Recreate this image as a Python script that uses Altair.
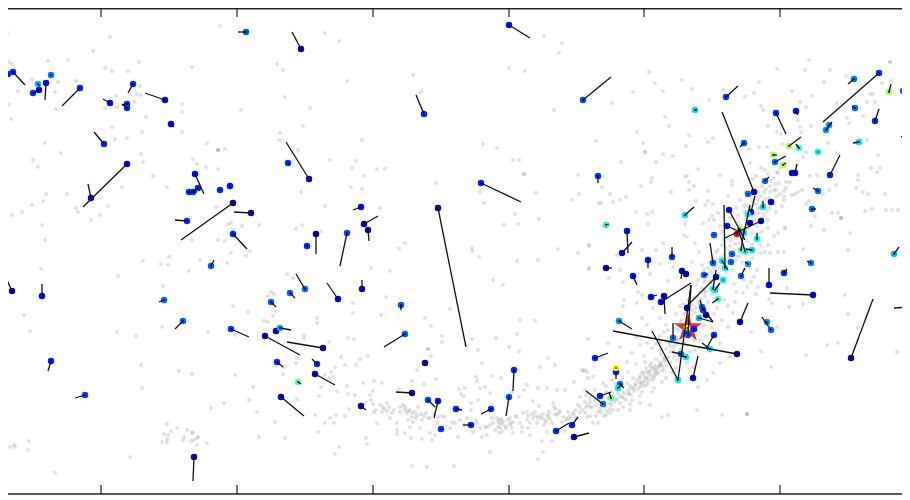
import altair as alt
import pandas as pd

TICKS_X = [101, 237, 373, 509, 644, 780]
FRAME_Y = [494, 8.7]

GREY_LEFT = [(7,33),(110,37),(93,51),(48,61),(68,60),(9,62),(12,64),(139,62),(105,68),(112,71),(128,71),(192,67),(277,64),(283,70),(220,26),(32,79),(58,82),(76,81),(18,91),(55,92),(140,86),(137,94),(141,95),(116,96),(134,102),(285,97),(9,105),(56,109),(105,108),(117,107),(182,104),(182,112),(241,110),(11,119),(146,117),(112,127),(142,132),(182,132),(280,133),(279,140),(115,139),(127,138),(45,143),(207,143),(218,150),(218,150),(218,150),(225,149),(61,153),(141,154),(143,162),(33,160),(38,167),(193,159),(197,164),(206,167),(218,169),(298,150),(153,176),(122,187),(167,187),(46,194),(67,194),(43,201),(32,205),(108,206),(76,208),(78,212),(100,215),(22,212),(12,215),(42,225),(91,220),(45,240),(192,240),(218,240),(225,241),(231,223),(228,224),(242,226),(259,225),(296,229),(233,230),(216,207)]
GREY_LOWLEFT = [(41,269),(143,261),(161,264),(168,265),(169,257),(200,260),(227,263),(231,253),(246,256),(250,251),(189,271),(118,276),(287,274),(293,278),(163,286),(271,292),(274,294),(268,296),(233,306),(248,312),(276,311),(273,316),(264,321),(268,322),(24,315),(30,331),(117,332),(136,336),(162,327),(208,332),(235,335),(141,365),(179,371),(192,374),(235,375),(283,374),(284,367),(296,363),(297,358),(142,388),(253,387),(249,400),(297,399),(224,403),(211,408),(257,412),(275,422),(259,437),(285,438),(167,424),(177,428),(171,431),(164,434),(168,435),(167,439),(167,442),(162,442),(187,430),(192,432),(193,433),(198,437),(197,438),(194,440),(191,441),(184,437),(183,440),(197,445),(207,443),(10,447),(14,445),(15,447),(29,441),(28,450),(130,457),(55,473)]
GREY_TOPMID = [(325,33),(339,41),(347,81),(310,108),(303,126),(413,75),(421,92),(362,140),(330,160),(356,161),(352,168),(364,176),(377,169),(385,169),(351,187),(362,189),(301,192),(325,206),(380,208),(302,225),(321,231),(405,243),(399,249),(436,183),(483,144),(497,148),(513,160),(519,160),(524,174),(524,174),(480,192),(484,203),(536,193),(572,200),(579,194),(578,175),(596,141),(515,214),(539,219),(504,225),(518,224),(472,248),(558,249),(589,246),(544,36),(562,43),(559,53),(509,68),(525,71),(554,110),(599,203)]
GREY_MID = [(371,268),(390,271),(472,251),(479,257),(517,261),(538,260),(578,253),(589,269),(493,280),(503,285),(353,303),(353,313),(386,297),(381,315),(450,309),(425,318),(431,326),(520,320),(535,321),(317,318),(317,323),(304,335),(304,338),(329,342),(348,338),(354,339),(442,336),(442,342),(472,339),(496,338),(517,334),(509,347),(519,351),(478,350),(428,349),(428,349),(431,356),(548,358),(588,339),(341,357),(368,356),(360,359),(345,365),(356,365),(482,363),(540,367),(555,365),(417,370),(335,367),(331,372),(325,375),(333,377),(329,378),(492,376),(501,378),(436,379),(476,377),(477,381),(412,381),(374,381),(363,383),(382,383),(424,384),(399,389),(347,386),(337,391),(321,387),(319,396),(348,394),(355,395),(370,395),(373,391),(371,400),(365,403),(374,412),(349,409),(336,415),(315,415),(330,418),(325,423),(334,423),(345,416),(318,432),(377,423),(366,438),(367,444),(339,447),(335,454),(412,466),(427,467),(454,466),(490,452),(538,459),(543,452)]
GREY_BAND_A = [(383,407),(387,403),(382,412),(387,411),(394,410),(400,407),(405,410),(407,413),(412,413),(417,415),(424,416),(428,418),(403,405),(410,410),(418,407),(413,422),(410,427),(397,423),(397,430),(397,434),(405,433),(411,438),(420,428),(422,439),(430,433),(432,440),(435,435),(437,423),(445,417),(452,422),(455,423),(460,420),(467,418),(477,423),(485,427),(493,423),(498,422),(502,423),(508,420),(513,422),(511,423),(500,428),(499,433),(502,432),(487,435),(482,437),(473,432),(458,437),(522,432),(522,427),(513,433),(530,435),(527,420),(530,423),(533,418),(537,423),(542,418),(545,420),(548,417),(552,423),(559,413),(557,415),(563,417),(567,418),(573,413),(578,405),(583,410),(586,407),(592,407),(595,400),(586,395),(590,398),(583,371),(587,372),(574,382),(565,390),(557,390),(553,403),(554,407),(547,388),(538,388),(533,401),(539,406),(527,385),(524,390),(519,397),(512,392),(485,387),(480,388),(471,403),(471,410),(465,388),(459,389),(461,394),(464,396),(478,400),(490,393),(527,412),(523,413),(547,432),(542,441),(552,441),(565,431),(593,423),(598,423),(558,433),(497,418),(492,418),(517,417),(438,417),(480,428),(487,427),(384,409),(389,407),(408,411),(415,412),(421,414),(426,413),(405,407),(499,420),(501,419),(510,418),(548,415),(550,419),(555,414),(560,411),(570,416),(575,410),(580,412),(590,402),(588,405)]
GREY_TOPRIGHT = [(649,72),(682,80),(655,83),(663,91),(692,89),(633,92),(612,103),(709,100),(723,90),(745,97),(665,117),(669,126),(637,132),(643,143),(689,135),(686,146),(708,142),(713,138),(645,152),(645,152),(663,154),(673,156),(656,162),(621,162),(698,169),(720,175),(687,176),(685,177),(652,178),(651,182),(689,182),(694,186),(641,186),(689,190),(708,191),(671,192),(602,187),(610,194),(626,197),(620,200),(613,202),(601,203),(732,181),(732,185),(728,196),(696,201),(708,201),(705,205),(713,204),(636,212),(647,214),(652,212),(718,213),(712,216),(709,220),(714,220),(703,223),(648,224),(685,224),(809,60),(890,62),(890,62),(777,69),(805,70),(830,70),(846,76),(759,82),(824,82),(882,83),(891,81),(792,91),(754,93),(812,96),(870,94),(873,94),(867,102),(875,102),(837,103),(800,102),(806,107),(761,106),(763,110),(863,116),(847,118),(849,123),(811,126),(798,120),(800,127),(801,132),(768,126),(777,132),(781,134),(828,143),(867,140),(759,147),(749,149),(767,147),(782,144),(806,152),(803,157),(837,153),(878,155),(880,168),(877,172),(871,168),(858,175),(858,180),(750,163),(761,168),(765,170),(777,172),(810,176),(786,182),(790,182),(817,175),(836,185),(823,194),(829,190),(856,188),(863,192),(868,194),(885,194),(908,190),(802,190),(798,192),(795,194),(792,195),(784,191),(784,196),(782,206),(806,204),(809,201),(841,218),(841,218),(841,218),(832,213),(838,213),(865,211),(872,209),(886,210),(892,210),(898,210),(815,216),(753,179),(780,168),(783,157),(778,173)]
GREY_LOWRIGHT = [(811,226),(824,230),(850,233),(803,249),(848,250),(785,227),(785,229),(778,233),(774,236),(768,245),(765,252),(761,253),(770,253),(778,252),(784,252),(757,270),(754,277),(751,282),(758,287),(787,288),(743,293),(756,294),(769,299),(772,303),(789,307),(803,304),(845,295),(848,314),(858,328),(777,327),(751,332),(838,343),(827,345),(806,355),(897,352),(761,351),(771,367),(589,245),(656,250),(642,250),(617,255),(663,243),(684,235),(687,237),(695,243),(699,252),(589,268),(620,270),(609,278),(623,282),(624,300),(623,306),(642,295),(638,292),(668,281),(660,264),(650,274),(673,267),(692,262),(637,303),(653,308),(642,318),(647,325),(660,318),(636,337),(640,345),(620,347),(608,343),(602,357),(585,370),(582,370),(593,377),(588,378),(603,383),(612,380),(595,390),(585,390),(580,397),(585,402),(590,407),(585,413),(580,407),(587,417),(613,410),(610,413),(623,407),(630,410),(640,403),(650,405),(668,415),(662,417),(697,410),(722,415),(747,414),(747,414),(747,414),(627,362),(632,353),(647,343),(660,342),(645,362),(698,387),(707,380),(713,373),(720,363),(730,357),(720,343),(728,327),(733,313),(735,302),(747,287),(717,308),(700,340),(695,350),(687,363),(693,367)]
GREY_BAND_B = [(596,405),(600,409),(604,403),(607,411),(611,405),(608,398),(614,402),(617,399),(620,403),(613,396),(618,393),(622,397),(626,400),(624,393),(628,390),(631,395),(634,391),(630,386),(627,383),(635,385),(638,389),(641,384),(637,380),(633,378),(640,376),(644,381),(647,385),(645,377),(642,372),(649,375),(652,380),(650,371),(646,368),(654,369),(657,374),(655,366),(651,363),(659,366),(662,371),(660,362),(656,359),(664,361),(667,366),(665,357),(661,354),(669,357),(671,362),(670,352),(666,349),(673,350),(675,356),(674,346),(670,343),(677,344),(680,349),(678,340),(675,337),(681,338),(684,342),(682,333),(678,330),(685,328),(689,333),(686,323),(682,320),(690,320),(693,326),(691,315),(687,312),(695,313),(698,318),(696,308),(692,305),(700,304),(703,310),(701,299),(697,296),(705,296),(708,302),(706,291),(702,288),(710,288),(712,294),(710,282),(706,280),(714,281),(717,287),(715,275),(711,272),(719,274),(722,279),(720,268),(716,265),(724,266),(727,272),(725,260),(721,257),(729,258),(732,264),(730,252),(726,249),(734,250),(737,256),(735,244),(731,241),(739,243),(742,248),(740,237),(736,234),(744,235),(747,241),(745,229),(741,226),(749,228),(752,233),(750,222),(746,219),(754,220),(757,226),(755,214),(751,211),(759,213),(762,218),(760,207),(756,204),(764,205),(767,211),(765,199),(761,196),(769,198),(772,203),(770,192),(766,189),(774,190),(777,196),(775,184),(771,181),(779,183),(758,192),(752,200),(745,212),(738,222),(728,238),(722,245),(716,252),(710,262),(704,270),(698,280),(690,292),(684,304),(676,314),(668,330),(660,336),(652,348),(644,356),(636,364),(628,372),(622,378),(616,384),(606,392),(598,398),(632,400),(642,392),(654,388),(666,378),(676,368),(684,356),(694,340),(704,326),(714,314),(724,300),(734,284),(744,270),(752,258),(760,244),(768,228),(776,212),(784,200),(655,372),(648,379),(640,387),(660,365),(664,369),(634,388),(629,393),(652,376),(643,383),(656,370)]
GREY_BAND_C = [(640,378),(643,374),(646,378),(649,372),(652,368),(655,375),(658,368),(661,364),(664,358),(648,382),(644,386),(636,384),(632,388),(628,394),(624,398),(620,396),(616,400),(610,403),(605,407),(601,412),(612,392),(606,386),(660,350),(668,342),(672,336),(656,344),(664,332),(674,328),(680,322),(666,325),(684,314),(688,300),(680,306),(694,298),(700,292),(696,285),(704,282),(708,276),(702,265),(712,258),(718,250),(724,254),(714,268),(722,232),(728,226),(734,228),(738,216),(744,206),(740,200),(748,206),(752,194),(758,200),(762,186),(768,174),(774,178),(756,176),(746,192),(736,208),(730,218),(720,226),(740,256),(746,254),(752,244),(756,236),(762,232),(768,220),(774,204),(780,194),(786,188),(750,268),(744,280),(736,292),(728,306),(722,320),(712,328),(706,336),(700,348),(690,352),(678,360),(672,372),(662,382),(652,392),(640,396),(630,404),(618,410),(604,416),(596,416),(590,416),(576,418),(568,412),(562,422),(556,409),(549,412),(544,425),(538,418),(535,412),(528,428),(520,423),(515,416),(506,428),(495,430),(490,425),(476,420),(470,424),(464,425),(450,428),(442,416),(434,414),(430,418),(422,420),(416,418),(412,417),(408,420),(400,412),(392,413),(390,418),(376,410),(373,404),(380,405),(500,424),(503,421),(505,426),(498,427),(510,425),(512,428),(566,420),(570,419),(574,415),(540,416),(543,414),(546,422),(528,416),(532,414),(536,416),(598,412),(602,405),(606,415),(610,409),(640,382),(646,372),(650,366),(654,378),(658,372),(662,366),(666,360),(670,346),(676,340),(682,326),(686,318),(692,310),(698,302),(704,292),(712,284),(718,276),(726,278),(732,270),(728,262),(736,260),(742,262),(746,224),(752,216),(758,208),(764,192),(770,186),(776,190),(764,214),(770,208),(736,238),(730,246),(724,240),(716,260),(708,268)]

# x, y, colour level, tail x, tail y
STARS_LEFT = [(13,72,.1,25,85),(8,74,.1,4,74),(38,84,.3,40,86),(51,75,.22,51,76),(46,83,.07,45,100),(39,90,.07,34,93),(33,93,.1,37,91),(80,88,.1,62,106),(3,112,.1,0,106),(110,103,.07,103,99),(133,84,.1,128,93),(127,104,.1,122,105),(127,108,.1,122,104),(165,100,.05,145,93),(171,124,.07,174,127),(104,144,.1,94,132),(127,164,.05,83,207),(91,198,.07,88,184),(246,32,.17,238,32),(301,49,.03,292,32),(195,174,.07,204,194),(189,192,.1,189,192),(193,192,.1,197,192),(198,188,.1,190,193),(220,190,.1,220,190),(230,186,.08,230,186),(233,203,.02,181,240),(251,213,.03,234,212),(187,221,.1,175,220),(233,234,.1,247,249),(288,163,.11,289,165),(309,179,.03,286,142),(12,291,.03,0,265),(42,296,.07,42,284),(51,361,.09,48,371),(85,395,.12,75,398),(194,457,.02,193,481),(211,266,.18,214,260),(164,300,.2,159,302),(183,321,.18,175,329),(231,329,.12,249,337),(265,336,.04,300,355),(276,331,.03,276,331),(280,328,.28,291,330),(277,362,.1,283,367),(271,302,.18,276,307),(290,293,.19,295,298),(298,382,.48,301,384),(281,397,.03,304,416)]
STARS_MID = [(305,289,.2,296,274),(338,299,.06,327,283),(362,289,.04,362,280),(401,305,.17,401,310),(405,334,.16,384,347),(323,348,.03,287,342),(317,364,.1,312,359),(315,374,.03,335,385),(425,363,.02,425,363),(361,406,.03,366,410),(412,393,.02,396,392),(428,400,.14,435,407),(438,401,.08,434,418),(441,429,.11,441,429),(456,409,.1,462,410),(471,425,.09,463,425),(491,409,.1,481,414),(514,370,.1,513,391),(509,397,.15,506,416),(556,431,.1,569,423),(572,425,.09,578,417),(574,437,.03,589,433),(595,358,.1,608,353),(424,114,.1,416,95),(509,25,.08,530,38),(583,100,.15,611,77),(481,183,.09,521,202),(438,208,.02,466,347),(361,207,.08,353,210),(364,224,.03,378,216),(368,230,.02,369,241),(316,234,.02,316,254),(347,233,.14,340,266),(307,246,.1,307,246),(598,176,.12,598,183)]
STARS_BAND = [(726,97,.12,738,86),(695,110,.33,697,110),(606,225,.44,609,224),(685,215,.34,694,207),(744,143,.17,740,147),(627,231,.08,628,253),(622,253,.05,632,242),(606,268,.04,612,268),(648,260,.08,648,268),(672,257,.11,672,247),(633,276,.08,637,285),(682,271,.03,681,279),(686,274,.03,686,274),(704,275,.2,708,274),(651,297,.08,657,295),(664,296,.04,665,314),(661,302,.06,691,283),(687,308,.03,687,308),(619,321,.26,632,329),(694,329,.08,694,329),(688,335,.14,691,285),(673,338,.2,673,323),(737,354,.03,613,331),(740,322,.04,748,303),(714,335,.1,706,349),(710,349,.36,702,343),(681,354,.16,672,352),(686,357,.34,682,356),(693,378,.05,698,356),(678,380,.42,652,331),(678,380,.42,691,285),(616,372,.09,616,379),(620,384,.2,624,388),(618,388,.34,622,384),(611,398,.48,609,392),(600,396,.09,611,392),(603,404,.23,586,391),(699,318,.3,713,322),(702,307,.2,713,322),(706,315,.04,706,315),(703,310,.12,700,300),(716,277,.03,688,305),(723,280,.36,723,280),(715,290,.34,720,283),(713,289,.42,716,270),(718,299,.45,712,303),(713,263,.17,710,243),(731,262,.2,731,262),(732,254,.18,732,254),(741,276,.18,745,268),(714,235,.17,714,235),(722,261,.36,728,270),(725,268,.36,724,205),(729,210,.08,745,240),(727,226,.08,740,232),(761,221,.03,725,238),(751,212,.1,755,196),(748,214,.37,748,214),(763,207,.34,763,201),(771,202,.04,771,202),(750,223,.03,750,223),(757,239,.37,757,233),(737,234,.88,737,234),(740,229,.55,740,229),(744,233,.34,750,205),(752,250,.34,746,249),(745,251,.34,738,228),(741,250,.47,744,230),(748,264,.28,745,262),(754,192,.05,722,112),(748,194,.2,748,194)]
STARS_RIGHT = [(879,73,.1,823,122),(854,79,.22,848,84),(776,113,.1,786,134),(796,111,.08,798,115),(889,92,.54,891,84),(903,91,.2,906,91),(908,100,.1,908,100),(875,121,.1,879,109),(855,108,.2,852,106),(829,125,.27,829,125),(826,130,.27,832,122),(830,175,.09,840,155),(859,142,.34,853,143),(818,152,.41,818,152),(908,167,.33,908,161),(789,146,.55,801,137),(799,148,.45,796,144),(773,155,.55,777,155),(775,162,.2,786,156),(783,165,.55,786,163),(792,173,.04,792,173),(795,173,.05,797,164),(765,181,.2,769,177),(818,191,.2,813,188),(812,209,.2,816,209),(908,133,.1,901,137),(784,273,.1,787,269),(811,263,.23,807,261),(894,254,.3,899,247),(769,285,.07,769,268),(813,295,.05,770,293),(851,358,.02,873,299),(910,307,.1,894,308),(771,330,.2,762,317),(767,322,.27,767,322)]
YELLOW = [(616,368,.64,616,368),(687,328,.62,687,328),(686,333,.2,686,333)]
RED_STAR = [(688,328)]
STAR_PATH = "M0,-1L0.2245,-0.309L0.951,-0.309L0.363,0.118L0.588,0.809L0,0.382L-0.588,0.809L-0.363,0.118L-0.951,-0.309L-0.2245,-0.309Z"

grey = pd.DataFrame(GREY_LEFT + GREY_LOWLEFT + GREY_TOPMID + GREY_MID + GREY_BAND_A + GREY_TOPRIGHT + GREY_LOWRIGHT + GREY_BAND_B + GREY_BAND_C, columns=["x", "y"])
stars = pd.DataFrame(STARS_LEFT + STARS_MID + STARS_RIGHT + STARS_BAND + YELLOW, columns=["x", "y", "c", "tx", "ty"])
star = pd.DataFrame(RED_STAR, columns=["x", "y"])
ticks = pd.DataFrame({"x": TICKS_X})
frame = pd.DataFrame({"y": FRAME_Y})

X = alt.X("x:Q", scale=alt.Scale(domain=[8, 902], nice=False, zero=False), axis=None)
Y = alt.Y("y:Q", scale=alt.Scale(domain=[496, 8], nice=False, zero=False), axis=None)

grey_layer = alt.Chart(grey).mark_circle(color="#808080", opacity=0.24, size=17, clip=True).encode(x=X, y=Y)
red = alt.Chart(star).mark_point(shape=STAR_PATH, filled=True, color="#cc3030", opacity=0.95, size=900, strokeWidth=0).encode(x=X, y=Y)
colored = alt.Chart(stars).mark_circle(size=42, opacity=1, clip=True).encode(
    x=X, y=Y,
    color=alt.Color("c:Q", legend=None, scale=alt.Scale(
        domain=[0, .075, .25, .375, .5, .625, .75, .875, 1],
        range=["#00007f", "#0000ff", "#007fff", "#00ffff", "#7fff7f", "#ffff00", "#ff7f00", "#ff0000", "#7f0000"])),
)
lines = alt.Chart(stars).mark_rule(color="#111111", strokeWidth=1.3, clip=True).encode(x=X, y=Y, x2="tx:Q", y2="ty:Q")
centres = alt.Chart(stars).mark_circle(color="#000033", size=4, opacity=0.8, clip=True).encode(x=X, y=Y)

top = alt.Chart(frame).mark_rule(color="#222222", strokeWidth=1.4).encode(y=Y, x=alt.value(0), x2=alt.value(894))
tick_top = alt.Chart(ticks).mark_rule(color="#222222", strokeWidth=1.2).encode(x=X, y=alt.value(0), y2=alt.value(9))
tick_bot = alt.Chart(ticks).mark_rule(color="#222222", strokeWidth=1.2).encode(x=X, y=alt.value(477), y2=alt.value(486))

chart = alt.layer(grey_layer, red, colored, lines, centres, top, tick_top, tick_bot).properties(
    width=894, height=488, padding=0, autosize=alt.AutoSizeParams(type="none")
).configure_view(stroke=None)

chart.save("out.html", embed_options={"renderer": "svg", "actions": False})
